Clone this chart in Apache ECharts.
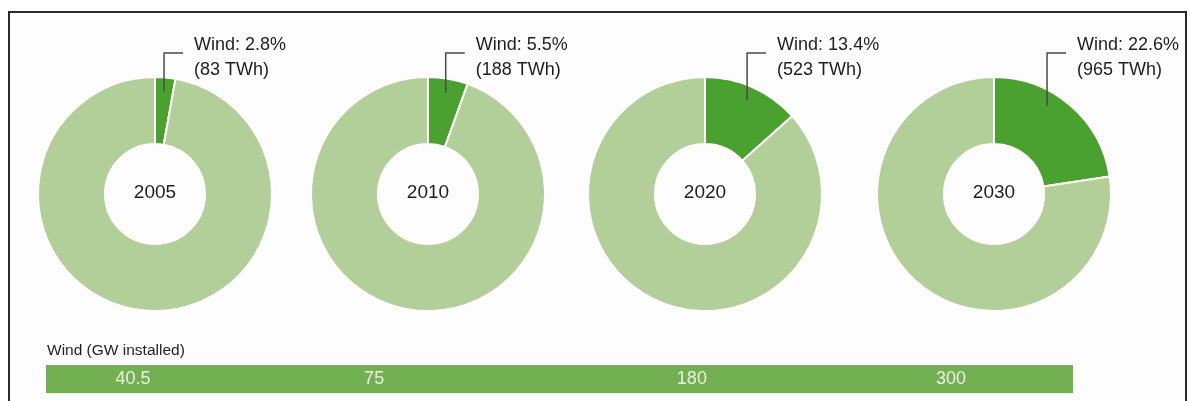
<!DOCTYPE html>
<html>
<head>
<meta charset="utf-8">
<script src="https://cdn.jsdelivr.net/npm/echarts@6/dist/echarts.min.js"></script>
<style>
  html, body { margin: 0; padding: 0; background: #fff; }
  #chart { width: 1190px; height: 401px; }
</style>
</head>
<body>
<div id="chart"></div>
<script>
// data
const years = ['2005', '2010', '2020', '2030']
const windShare = [2.8, 5.5, 13.4, 22.6]   // % of electricity
const windTWh = [83, 188, 523, 965]
const windGW = [40.5, 75, 180, 300]         // GW installed

// layout
const pieCenters = [[155, 194], [428, 194], [705, 194], [994, 194]]
const pieRadius = [50, 117]
const gwLabelShift = [-42, -57, 4, 7]

const FONT = '"Liberation Sans", Arial, sans-serif'
const DARK = '#4aa12f'
const LIGHT = '#b2cf9a'

const chart = echarts.init(document.getElementById('chart'))

function pieData(i, colors) {
  return [
    { name: 'Wind', value: windShare[i], itemStyle: { color: colors[0] } },
    { name: 'Other', value: +(100 - windShare[i]).toFixed(1), itemStyle: { color: colors[1] } }
  ]
}

// the donuts themselves
const pieSeries = years.map((y, i) => ({
  type: 'pie',
  z: 2,
  center: pieCenters[i],
  radius: pieRadius,
  startAngle: 90,
  silent: true,
  label: { show: false },
  labelLine: { show: false },
  itemStyle: { borderColor: '#fff', borderWidth: 2 },
  data: pieData(i, [DARK, LIGHT])
}))

// transparent copies on top, only to carry the callouts so the leader is drawn over the slice
const calloutSeries = years.map((y, i) => ({
  type: 'pie',
  z: 5,
  center: pieCenters[i],
  radius: pieRadius,
  startAngle: 90,
  silent: true,
  avoidLabelOverlap: false,
  itemStyle: { borderWidth: 0 },
  label: {
    show: false,
    fontFamily: FONT,
    fontSize: 18,
    lineHeight: 25,
    color: '#1e1e1e'
  },
  labelLine: {
    show: false,
    lineStyle: { color: '#4a4a4a', width: 1.5 }
  },
  labelLayout: function(params) {
    if (params.dataIndex !== 0) return {}
    const k = params.seriesIndex - years.length
    const c = pieCenters[k]
    // half of the wind slice, capped so the leader stays near the top
    const half = Math.min(windShare[k] * 1.8, 31) * Math.PI / 180
    const ax = c[0] + 103 * Math.sin(half)
    const ay = c[1] - 103 * Math.cos(half)
    return {
      x: ax + 30,
      y: 33,
      align: 'left',
      verticalAlign: 'top',
      labelLinePoints: [[ax, ay], [ax, 53], [ax + 19, 53]]
    }
  },
  data: pieData(i, ['rgba(0,0,0,0)', 'rgba(0,0,0,0)']).map((d, j) => j === 0 ? Object.assign(d, {
    label: { show: true, formatter: 'Wind: ' + windShare[i] + '%\n(' + windTWh[i] + ' TWh)' },
    labelLine: { show: true }
  }) : d)
}))

const option = {
  animation: false,
  backgroundColor: '#fff',
  graphic: [
    {
      type: 'rect',
      z: -10,
      shape: { x: 9, y: 12, width: 1177, height: 420 },
      style: { fill: '#fdfdfd', stroke: '#2a2a2a', lineWidth: 2 }
    }
  ],
  title: years.map((y, i) => ({
    text: y,
    left: pieCenters[i][0],
    top: pieCenters[i][1] - 11,
    textAlign: 'center',
    padding: 0,
    textStyle: { fontFamily: FONT, fontSize: 19, fontWeight: 'normal', color: '#1e1e1e' }
  })).concat([{
    text: 'Wind (GW installed)',
    left: 47,
    top: 343,
    padding: 0,
    textStyle: { fontFamily: FONT, fontSize: 15.5, fontWeight: 'normal', color: '#1e1e1e' }
  }]),
  grid: { left: 46, right: 117, top: 365, height: 28 },
  xAxis: {
    type: 'category',
    data: years,
    show: false
  },
  yAxis: {
    type: 'value',
    min: 0,
    max: 1,
    show: false
  },
  series: pieSeries.concat(calloutSeries, [{
    type: 'bar',
    clip: true,
    barWidth: 259,
    silent: true,
    itemStyle: { color: '#72b052' },
    label: {
      show: true,
      position: 'inside',
      fontFamily: FONT,
      fontSize: 18,
      color: '#eaf3e2',
      formatter: p => String(windGW[p.dataIndex])
    },
    data: windGW.map((v, i) => ({ value: v, label: { offset: [gwLabelShift[i], 0] } }))
  }])
}

chart.setOption(option)
</script>
</body>
</html>
